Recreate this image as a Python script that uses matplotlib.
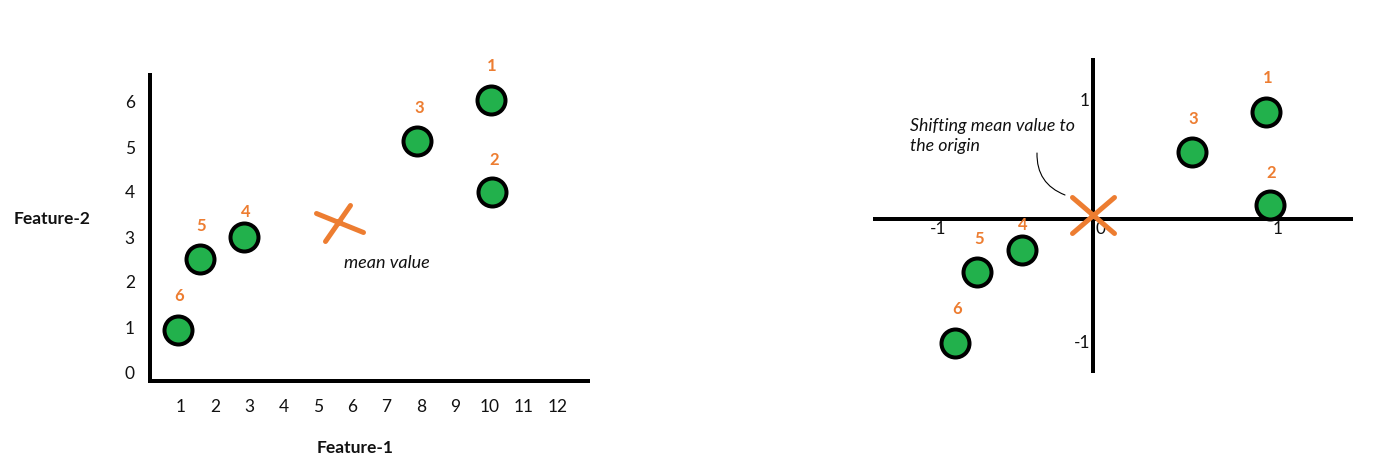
import matplotlib
matplotlib.use('Agg')
import matplotlib.pyplot as plt
from matplotlib.path import Path
from matplotlib.markers import MarkerStyle

# ---------------- data ----------------
point_labels = ['1', '2', '3', '4', '5', '6']
feature1 = [10.04, 10.09, 7.9, 2.85, 1.55, 0.91]
feature2 = [6.04, 4.0, 5.13, 3.0, 2.51, 0.93]
mean_left = (5.58, 3.33)

centered_x = [1.02, 1.04, 0.58, -0.42, -0.68, -0.81]
centered_y = [0.88, 0.11, 0.55, -0.26, -0.44, -1.03]
mean_right = (0.0, 0.0)

left_xticks = list(range(1, 13))
left_yticks = list(range(0, 7))
right_xticks = [-1, 0, 1]
right_yticks = [1, -1]

# ---------------- style ----------------
W, H = 1400, 473
PT = 0.72  # points per pixel at dpi 100
GREEN = '#22B14C'
ORANGE = '#ED7D31'
FONT = 'Lato'
plt.rcParams['font.family'] = [FONT, 'DejaVu Sans']
TICK_FS = 12.5
NUM_FS = 12

label_dy = [34, 32, 33, 25, 33, 34]  # px offsets of the orange numbers

fig = plt.figure(figsize=(W / 100, H / 100), dpi=100)
fig.patch.set_facecolor('white')


def px_axes(x0, y0, x1, y1):
    return fig.add_axes([x0 / W, 1 - y1 / H, (x1 - x0) / W, (y1 - y0) / H])


def cross_marker(segs):
    verts, codes = [], []
    for a, b in segs:
        verts += [a, b]
        codes += [Path.MOVETO, Path.LINETO]
    return MarkerStyle(Path(verts, codes), capstyle='round')


# ---------------- left panel ----------------
axl = px_axes(150, 75, 588, 380.5)
x0px, xscale = 146.75, 34.25
y0px, yscale = 372.0, 45.0
axl.set_xlim((150 - x0px) / xscale, (588 - x0px) / xscale)
axl.set_ylim((y0px - 380.5) / yscale, (y0px - 75) / yscale)
for s in ['top', 'right']:
    axl.spines[s].set_visible(False)
for s in ['left', 'bottom']:
    axl.spines[s].set_linewidth(4 * PT)
    axl.spines[s].set_color('black')
    axl.spines[s].set_capstyle('projecting')
axl.set_xticks(left_xticks)
axl.set_xticklabels([str(t) for t in left_xticks])
axl.set_yticks(left_yticks)
axl.set_yticklabels([str(t) for t in left_yticks])
axl.tick_params(axis='x', length=0, pad=13, labelsize=TICK_FS, labelcolor='#111111')
axl.tick_params(axis='y', length=0, pad=11, labelsize=TICK_FS, labelcolor='#111111')
axl.patch.set_alpha(0)

axl.scatter(feature1, feature2, s=(28 * PT) ** 2, color=GREEN,
            edgecolor='black', linewidth=4 * PT, zorder=5, clip_on=False)
for lbl, x, y, dy in zip(point_labels, feature1, feature2, label_dy):
    axl.annotate(lbl, (x, y), xytext=(1.5 * PT, dy * PT), textcoords='offset points',
                 ha='center', va='center', color=ORANGE, fontweight='bold',
                 fontsize=NUM_FS, annotation_clip=False)

mk_left = cross_marker([((-22, 9), (25, -10)), ((-13, -19), (12, 17))])
axl.plot([mean_left[0]], [mean_left[1]], linestyle='none', marker=mk_left,
         markersize=50 * PT, markeredgewidth=5 * PT, markeredgecolor=ORANGE,
         markerfacecolor='none', zorder=6, clip_on=False)

fig.text(387 / W, 1 - 263 / H, 'mean value', ha='center', va='center',
         fontsize=13, fontstyle='italic', color='#111111')
fig.text(52 / W, 1 - 219 / H, 'Feature-2', ha='center', va='center',
         fontsize=12.5, fontweight='bold', color='#111111')
fig.text(355 / W, 1 - 448 / H, 'Feature-1', ha='center', va='center',
         fontsize=12.5, fontweight='bold', color='#111111')

# ---------------- right panel ----------------
axr = px_axes(873, 58, 1353, 373)
ox, sx = 1093.0, 170.0
oy, sy = 218.5, 121.0
axr.set_xlim((873 - ox) / sx, (1353 - ox) / sx)
axr.set_ylim((oy - 373) / sy, (oy - 58) / sy)
axr.axis('off')
axr.axhline(0, color='black', lw=4 * PT, zorder=2)
axr.axvline(0, color='black', lw=4 * PT, zorder=2)

xtick_dx = [15, 8, 15]
for t, dx in zip(right_xticks, xtick_dx):
    axr.annotate(str(t), (t, 0), xytext=(dx * PT, -10 * PT), textcoords='offset points',
                 ha='center', va='center', fontsize=TICK_FS, color='#111111',
                 annotation_clip=False, zorder=3)
for t in right_yticks:
    axr.annotate(str(t), (0, t), xytext=(-3 * PT, -3 * PT), textcoords='offset points',
                 ha='right', va='center', fontsize=TICK_FS, color='#111111',
                 annotation_clip=False, zorder=3)

axr.scatter(centered_x, centered_y, s=(28 * PT) ** 2, color=GREEN,
            edgecolor='black', linewidth=4 * PT, zorder=5, clip_on=False)
for lbl, x, y, dy in zip(point_labels, centered_x, centered_y, label_dy):
    axr.annotate(lbl, (x, y), xytext=(1.5 * PT, dy * PT), textcoords='offset points',
                 ha='center', va='center', color=ORANGE, fontweight='bold',
                 fontsize=NUM_FS, annotation_clip=False)

mk_right = cross_marker([((-21, 18), (21, -18)), ((-21, -18), (21, 18))])
axr.plot([mean_right[0]], [mean_right[1] + 0.03], linestyle='none', marker=mk_right,
         markersize=42 * PT, markeredgewidth=5 * PT, markeredgecolor=ORANGE,
         markerfacecolor='none', zorder=6, clip_on=False)

fig.text(910 / W, 1 - 136 / H, 'Shifting mean value to\nthe origin', ha='left',
         va='center', fontsize=12.8, fontstyle='italic', linespacing=1.25,
         color='#111111')
axr.annotate('', xy=((1065 - ox) / sx, (oy - 195) / sy),
             xytext=((1037 - ox) / sx, (oy - 153) / sy),
             arrowprops=dict(arrowstyle='-', connectionstyle='arc3,rad=0.35',
                             lw=0.8, color='black', shrinkA=0, shrinkB=0))

fig.savefig('out.png', dpi=100, facecolor='white')
